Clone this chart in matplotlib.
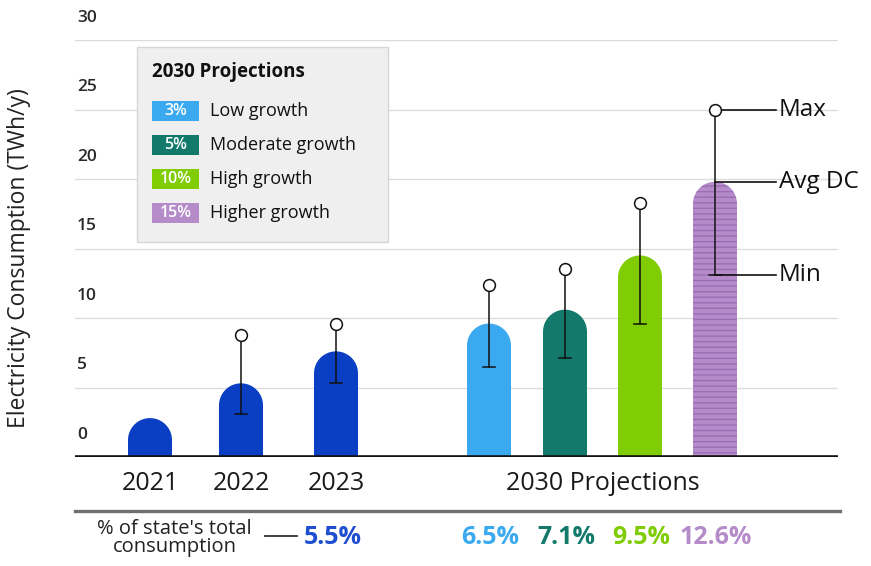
import numpy as np
import matplotlib
matplotlib.use("Agg")
import matplotlib.pyplot as plt
from matplotlib.patches import Polygon, Rectangle
from matplotlib.transforms import Affine2D

plt.rcParams['font.family'] = ['Open Sans', 'DejaVu Sans']

# ---- data (TWh/y) ----
years = ['2021', '2022', '2023']
hist_avg = [2.8, 5.3, 7.6]
hist_min = [None, 3.1, 5.3]
hist_max = [None, 8.8, 9.6]

proj_rate = ['3%', '5%', '10%', '15%']
proj_name = ['Low growth', 'Moderate growth', 'High growth', 'Higher growth']
proj_avg = [9.6, 10.6, 14.5, 19.8]
proj_min = [6.5, 7.1, 9.6, 13.1]
proj_max = [12.4, 13.5, 18.3, 25.0]

share_hist = '5.5%'
share_proj = ['6.5%', '7.1%', '9.5%', '12.6%']

# ---- layout / style ----
hist_x = [150, 241, 336]
proj_x = [489, 565, 640, 715]
bar_w = 44
hist_color = '#0a3fc4'
proj_colors = ['#3aa9f0', '#137a6b', '#80cc05', '#b58bc9']
stripe_color = '#9b6db4'

W, H = 871, 566
fig = plt.figure(figsize=(W / 100, H / 100), dpi=100)
ax_l, ax_r, ax_top, ax_base = 75, 838, 40, 457
ax = fig.add_axes([ax_l / W, (H - ax_base) / H, (ax_r - ax_l) / W, (ax_base - ax_top) / H])
ax.set_xlim(ax_l, ax_r)
ax.set_ylim(0, 30)
ax.axis('off')

# pixel transform, origin top-left
px = Affine2D().scale(0.01, -0.01).translate(0, H / 100) + fig.dpi_scale_trans

# y radius of the rounded cap in data units
px_per_y = (ax_base - ax_top) / 30.0
ry = (bar_w / 2) / px_per_y


def rounded_bar(x, v, color, hatch=None):
    t = np.linspace(0, np.pi, 40)
    top = max(v - ry, 0)
    xs = np.concatenate([[x + bar_w / 2], x + bar_w / 2 * np.cos(t), [x - bar_w / 2]])
    ys = np.concatenate([[0], top + ry * np.sin(t), [0]])
    p = Polygon(np.column_stack([xs, ys]), closed=True, facecolor=color,
                edgecolor=stripe_color if hatch else color,
                linewidth=0, hatch=hatch, zorder=3)
    ax.add_patch(p)


def whisker(x, lo, hi):
    ax.plot([x, x], [lo, hi], color='#111111', lw=1.1, zorder=4)
    ax.plot([x - 6, x + 6], [lo, lo], color='#111111', lw=1.1, zorder=4)
    ax.plot([x], [hi], marker='o', ms=8.5, mfc='white', mec='#111111', mew=1.1, zorder=5)


# gridlines + y labels
for v in range(0, 31, 5):
    if v > 0:
        ax.plot([ax_l, ax_r], [v, v], color='#dcdcdc', lw=1, zorder=1)
    ax.text(77, v + 1.6, str(v), ha='left', va='center', fontsize=12.5,
            fontweight='semibold', color='#2a2a2a')
ax.plot([ax_l, ax_r], [0, 0], color='#111111', lw=2.6, zorder=6, solid_capstyle='butt')

for x, v, lo, hi in zip(hist_x, hist_avg, hist_min, hist_max):
    rounded_bar(x, v, hist_color)
    if lo is not None:
        whisker(x, lo, hi)

for i, (x, v, lo, hi) in enumerate(zip(proj_x, proj_avg, proj_min, proj_max)):
    rounded_bar(x, v, proj_colors[i], hatch='---' if i == 3 else None)
    whisker(x, lo, hi)

# Max / Avg DC / Min callouts on the last bar
xl = proj_x[-1]
for val, lab in [(proj_max[-1], 'Max'), (proj_avg[-1], 'Avg DC'), (proj_min[-1], 'Min')]:
    ax.plot([xl, 776], [val, val], color='#111111', lw=1.2, zorder=4)
    ax.text(779, val, lab, ha='left', va='center', fontsize=17.5, color='#111111')

# axis title
fig.text(19, 258, 'Electricity Consumption (TWh/y)', transform=px, rotation=90,
         ha='center', va='center', fontsize=16.5, color='#222222')

# category labels
for x, y in zip(hist_x, years):
    fig.text(x, 484, y, transform=px, ha='center', va='center', fontsize=18, color='#1a1a1a')
fig.text(603, 484, '2030 Projections', transform=px, ha='center', va='center',
         fontsize=18, color='#1a1a1a')

# separator
fig.add_artist(plt.Line2D([ax_l, 840], [511, 511], transform=px, color='#707070', lw=2.4))

# share of state's total row
fig.text(252, 538, "% of state's total\nconsumption", transform=px, ha='right', va='center',
         multialignment='center', fontsize=14.5, color='#222222', linespacing=0.9)
fig.add_artist(plt.Line2D([265, 297], [536, 536], transform=px, color='#333333', lw=1.3))
fig.text(304, 537, share_hist, transform=px, ha='left', va='center', fontsize=18,
         fontweight='bold', color='#1f4fd0')
for x, s, c in zip(proj_x, share_proj, proj_colors):
    fig.text(x + 1, 537, s, transform=px, ha='center', va='center', fontsize=18,
             fontweight='bold', color=c)

# legend box
fig.add_artist(Rectangle((137, 47), 251, 195, transform=px, facecolor='#efefef',
                         edgecolor='#d6d6d6', lw=1))
fig.text(152, 72, '2030 Projections', transform=px, ha='left', va='center',
         fontsize=13.5, fontweight='bold', color='#111111')
for i, (r, n) in enumerate(zip(proj_rate, proj_name)):
    yc = [111, 145, 179, 213][i]
    fig.add_artist(Rectangle((152, yc - 10), 47, 20, transform=px,
                             facecolor=proj_colors[i], edgecolor='none'))
    fig.text(175.5, yc, r, transform=px, ha='center', va='center', fontsize=11.5,
             fontweight='semibold', color='white')
    fig.text(210, yc, n, transform=px, ha='left', va='center', fontsize=13, color='#111111')

fig.savefig('out.png', dpi=100, facecolor='white')
